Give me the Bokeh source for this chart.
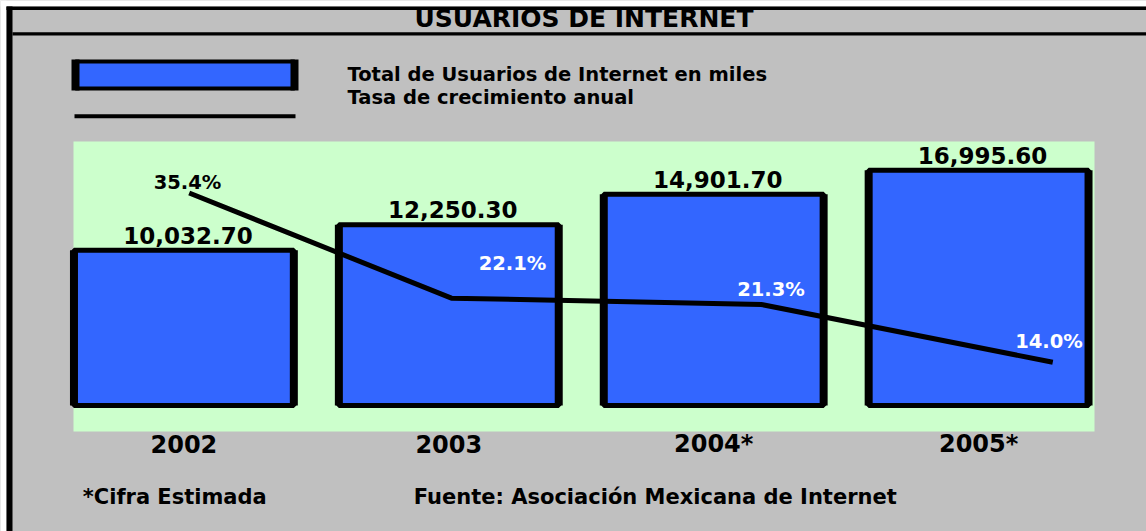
from bokeh.plotting import figure
from bokeh.models import Range1d, ColumnDataSource
from bokeh.core.properties import value
from bokeh.embed import file_html
from bokeh.resources import INLINE

# ---------------- data ----------------
years = ["2002", "2003", "2004*", "2005*"]
users_thousands = [10032.70, 12250.30, 14901.70, 16995.60]
growth_pct = [35.4, 22.1, 21.3, 14.0]
# where the growth line's vertices sit along the category axis in the source drawing
growth_pos = [0.02, 1.01, 2.18, 3.28]

chart_title = "USUARIOS DE INTERNET"
legend_labels = ["Total de Usuarios de Internet en miles", "Tasa de crecimiento anual"]
note_text = "*Cifra Estimada"
source_text = "Fuente: Asociación Mexicana de Internet"

# ---------------- layout / style ----------------
W, H = 1146, 531
BLUE = "#3366ff"
GREEN = "#ccffcc"
GREY = "#c0c0c0"
FONT = value("DejaVu Sans")
LIFT = 0.38          # baseline correction, in em, for the SVG text placement


def base(y, size):
    """screen baseline -> y to pass for a text of the given px size"""
    return y - LIFT * size


cat0, cat_step = 183.4, 264.9            # screen x of first category and spacing
x_range = Range1d(-cat0 / cat_step, (W - cat0) / cat_step)
users_range = Range1d(-14372, 31722)     # value scale spanning the whole canvas height
bar_floor = -3434                        # where the bars start on that scale
rate_range = Range1d(-7.41, 59.75)
BAR_W = 0.83

p = figure(width=W, height=H, x_range=x_range, y_range=users_range,
           output_backend="svg", toolbar_location=None,
           x_axis_location=None, y_axis_location=None,
           min_border=0, min_border_left=0, min_border_right=0,
           min_border_top=0, min_border_bottom=0,
           background_fill_color=GREY, border_fill_color="white",
           outline_line_color=None)
p.grid.visible = False
p.extra_x_ranges = {"px": Range1d(0, W)}
p.extra_y_ranges = {"px": Range1d(H, 0), "rate": rate_range}

deco = dict(x_range_name="px", y_range_name="px")
bold = dict(text_font=FONT, text_font_style="bold", text_color="black",
            text_baseline="alphabetic")

# white margins and black frame lines
p.quad(left=[0, 0], right=[W, 6], top=[0, 0], bottom=[6, H],
       fill_color="white", line_color=None, **deco)
p.quad(left=[6, 6, 12], right=[W, 12, W], top=[6, 6, 31.7], bottom=[9.5, H, 35],
       fill_color="black", line_color=None, **deco)

# title
p.text(x=[583.5], y=[base(27.9, 25)], text=[chart_title], text_font_size="25px",
       text_align="center", **bold, **deco)

# legend
p.quad(left=[75], right=[294], top=[61], bottom=[88],
       fill_color=BLUE, line_color="black", line_width=4, **deco)
p.segment(x0=[75, 294], x1=[75, 294], y0=[59, 59], y1=[90, 90],
          line_color="black", line_width=8, line_cap="butt", **deco)
p.segment(x0=[74], x1=[295], y0=[115.8], y1=[115.8],
          line_color="black", line_width=4, line_cap="butt", **deco)
p.text(x=[347, 347], y=[base(81.6, 19.5), base(104.3, 19.5)], text=legend_labels,
       text_font_size="19.5px", text_align="left", **bold, **deco)

# plot panel
p.quad(left=[73], right=[1094], top=[141], bottom=[431],
       fill_color=GREEN, line_color=None, **deco)

# bars
idx = list(range(len(years)))
bars = ColumnDataSource(dict(x=idx, top=users_thousands,
                             left=[i - BAR_W / 2 for i in idx],
                             right=[i + BAR_W / 2 for i in idx],
                             label=[f"{v:,.2f}" for v in users_thousands]))
p.vbar(x="x", top="top", bottom=bar_floor, width=BAR_W, source=bars,
       fill_color=BLUE, line_color="black", line_width=5)
p.segment(x0="left", x1="left", y0=bar_floor, y1="top", source=bars,
          line_color="black", line_width=8, line_cap="butt")
p.segment(x0="right", x1="right", y0=bar_floor, y1="top", source=bars,
          line_color="black", line_width=8, line_cap="butt")
p.text(x="x", y="top", text="label", source=bars, x_offset=4,
       y_offset=-6.4 - LIFT * 23, text_font_size="23px", text_align="center", **bold)

# growth line
rates = ColumnDataSource(dict(x=growth_pos, y=growth_pct,
                              label=[f"{v:.1f}%" for v in growth_pct],
                              color=["black", "white", "white", "white"],
                              dx=[-1.7, 61.1, 9.6, -3.8],
                              dy=[d - LIFT * 19.5 for d in [-2.9, -27.6, -7.9, -13.6]]))
p.line(x="x", y="y", source=rates, y_range_name="rate",
       line_color="black", line_width=5)
p.text(x="x", y="y", text="label", source=rates, y_range_name="rate",
       x_offset="dx", y_offset="dy", text_color="color",
       text_font=FONT, text_font_style="bold", text_font_size="19.5px",
       text_align="center", text_baseline="alphabetic")

# category labels
p.text(x=idx, y=[base(452.6, 24)] * len(years), text=years, y_range_name="px",
       text_font_size="24px", text_align="center", **bold)

# footer
p.text(x=[82.3, 413.3], y=[base(504, 21)] * 2, text=[note_text, source_text],
       text_font_size="21px", text_align="left", **bold, **deco)

open("out.html", "w").write(file_html(p, INLINE))
